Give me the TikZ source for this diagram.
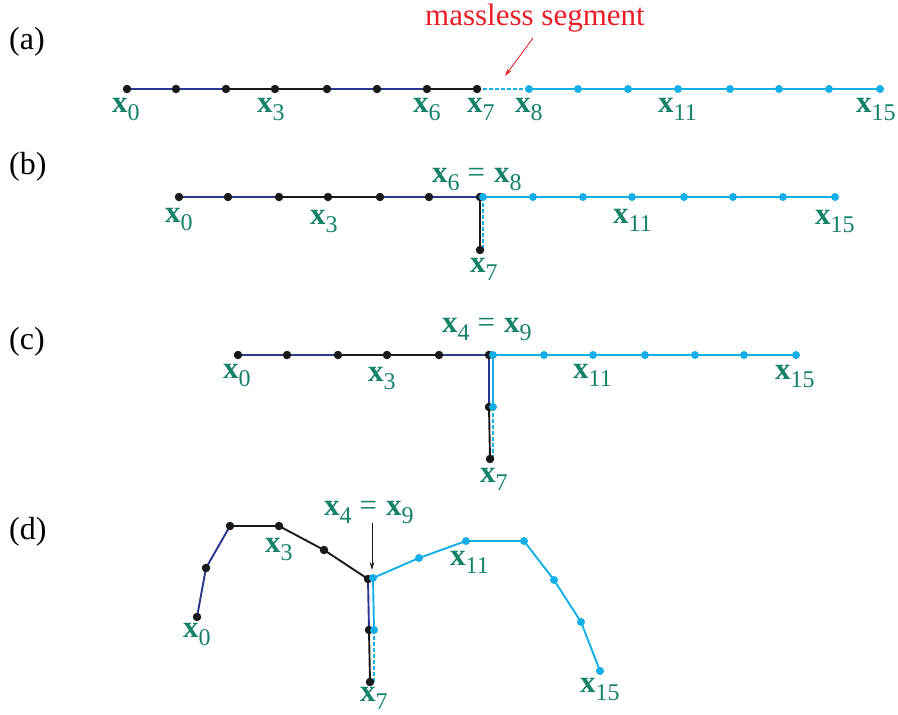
\documentclass[tikz,border=0pt]{standalone}
\usepackage{fontspec}
\setmainfont{Liberation Serif}
\usetikzlibrary{arrows.meta}
\definecolor{chainblack}{RGB}{25,25,25}
\definecolor{chainblue}{RGB}{40,55,140}
\definecolor{chaincyan}{RGB}{20,175,230}
\definecolor{labgreen}{RGB}{20,130,105}
\definecolor{massred}{RGB}{232,30,40}
\newcommand{\xsub}[1]{\textbf{x}\raisebox{-8pt}{\fontsize{24}{24}\selectfont #1}}
\newcommand{\xeq}[2]{\xsub{#1}\hspace{8pt}=\hspace{9pt}\xsub{#2}}
\begin{document}
\begin{tikzpicture}[x=1pt,y=-1pt,
  blk/.style={line width=1.9pt, draw=chainblack, line join=round},
  blu/.style={line width=1.9pt, draw=chainblue, line join=round},
  cyn/.style={line width=1.9pt, draw=chaincyan, line join=round},
  cyndash/.style={line width=1.9pt, draw=chaincyan, dash pattern=on 4pt off 2pt},
  bdot/.style={circle, fill=chainblack, inner sep=0pt, minimum size=8.5pt},
  cdot/.style={circle, fill=chaincyan, inner sep=0pt, minimum size=8pt},
  lbl/.style={anchor=base west, inner sep=0pt, text=labgreen, font=\fontsize{31}{31}\selectfont},
  panel/.style={anchor=base west, inner sep=0pt, font=\fontsize{32}{32}\selectfont},
  pointer/.style={line width=0.8pt, -{Stealth[length=8pt,width=4.5pt]}}
]
\useasboundingbox (0,0) rectangle (898,715);

% ---------------- panel labels
\node[panel] (pa) at (9,49) {(a)};
\node[panel] (pb) at (9,174) {(b)};
\node[panel] (pc) at (9,349) {(c)};
\node[panel] (pd) at (9,539) {(d)};

% ---------------- (a)
\foreach \x [count=\i from 0] in {127,176,226,275,327,377,427,477} \coordinate (a\i) at (\x,89);
\foreach \x [count=\i from 8] in {529,578,628,678,730,779,829,880} \coordinate (a\i) at (\x,89);
\draw[blu] (a0)--(a1)--(a2);
\draw[blk] (a2)--(a3)--(a4);
\draw[blu] (a4)--(a5)--(a6);
\draw[blk] (a6)--(a7);
\draw[cyndash] (a7)--(a8);
\draw[cyn] (a8)--(a9)--(a10)--(a11)--(a12)--(a13)--(a14)--(a15);
\foreach \i in {0,...,7} \node[bdot] (da\i) at (a\i) {};
\foreach \i in {8,...,15} \node[cdot] (da\i) at (a\i) {};
\node[lbl] (la0) at (112,112) {\xsub{0}};
\node[lbl] (la3) at (257,112) {\xsub{3}};
\node[lbl] (la6) at (413,112) {\xsub{6}};
\node[lbl] (la7) at (467,112) {\xsub{7}};
\node[lbl] (la8) at (515,112) {\xsub{8}};
\node[lbl] (la11) at (658,112) {\xsub{11}};
\node[lbl] (la15) at (856,112) {\xsub{15}};
\node[anchor=base west, inner sep=0pt, text=massred, font=\fontsize{31}{31}\selectfont] (mass) at (425,25) {massless segment};
\coordinate (mstart) at (533,38);
\coordinate (mend) at (505,76);
\draw[pointer, draw=massred, fill=massred] (mstart) -- (mend);

% ---------------- (b)
\foreach \x [count=\i from 0] in {179,228,279,328,380,429,480} \coordinate (b\i) at (\x,197);
\coordinate (b7) at (480,250);
\coordinate (b8) at (483,197);
\coordinate (b7c) at (483,250);
\foreach \x [count=\i from 9] in {533,583,632,684,733,783,835} \coordinate (b\i) at (\x,197);
\draw[blu] (b0)--(b1)--(b2);
\draw[blk] (b2)--(b3)--(b4);
\draw[blu] (b4)--(b5)--(b6);
\draw[blk] (b6)--(b7);
\draw[cyndash] (b8)--(b7c);
\draw[cyn] (b8)--(b9)--(b10)--(b11)--(b12)--(b13)--(b14)--(b15);
\foreach \i in {0,...,7} \node[bdot] (db\i) at (b\i) {};
\foreach \i in {8,...,15} \node[cdot] (db\i) at (b\i) {};
\node[lbl] (lb0) at (165,222) {\xsub{0}};
\node[lbl] (lb3) at (310,224) {\xsub{3}};
\node[lbl] (lb7) at (470,272) {\xsub{7}};
\node[lbl] (lb68) at (432,182) {\xeq{6}{8}};
\node[lbl] (lb11) at (613,223) {\xsub{11}};
\node[lbl] (lb15) at (815,224) {\xsub{15}};

% ---------------- (c)
\foreach \x [count=\i from 0] in {238,287,338,387,439,489} \coordinate (c\i) at (\x,355);
\coordinate (c6) at (489,407);
\coordinate (c7) at (490,459);
\coordinate (c9) at (493,355);
\coordinate (c8) at (493,407);
\coordinate (c7c) at (493,459);
\foreach \x [count=\i from 10] in {544,593,645,695,744,796} \coordinate (c\i) at (\x,355);
\draw[blu] (c0)--(c1)--(c2);
\draw[blk] (c2)--(c3)--(c4);
\draw[blu] (c4)--(c5)--(c6);
\draw[blk] (c6)--(c7);
\draw[cyndash] (c8)--(c7c);
\draw[cyn] (c8)--(c9)--(c10)--(c11)--(c12)--(c13)--(c14)--(c15);
\foreach \i in {0,...,7} \node[bdot] (dc\i) at (c\i) {};
\foreach \i in {8,...,15} \node[cdot] (dc\i) at (c\i) {};
\node[lbl] (lc0) at (223,378) {\xsub{0}};
\node[lbl] (lc3) at (368,381) {\xsub{3}};
\node[lbl] (lc49) at (442,332) {\xeq{4}{9}};
\node[lbl] (lc7) at (480,482) {\xsub{7}};
\node[lbl] (lc11) at (573,378) {\xsub{11}};
\node[lbl] (lc15) at (775,379) {\xsub{15}};

% ---------------- (d)
\coordinate (d0) at (197,617);
\coordinate (d1) at (206,568);
\coordinate (d2) at (230,526);
\coordinate (d3) at (279,526);
\coordinate (d4) at (324,550);
\coordinate (d5) at (368,579);
\coordinate (d6) at (369,630);
\coordinate (d7) at (370,682);
\coordinate (d9) at (373,578);
\coordinate (d8) at (374,630);
\coordinate (d7c) at (374,682);
\coordinate (d10) at (419,558);
\coordinate (d11) at (466,541);
\coordinate (d12) at (524,541);
\coordinate (d13) at (554,580);
\coordinate (d14) at (581,622);
\coordinate (d15) at (600,671);
\draw[blu] (d0)--(d1)--(d2);
\draw[blk] (d2)--(d3)--(d4)--(d5);
\draw[blu] (d5)--(d6);
\draw[blk] (d6)--(d7);
\draw[cyndash] (d8)--(d7c);
\draw[cyn] (d8)--(d9)--(d10)--(d11)--(d12)--(d13)--(d14)--(d15);
\foreach \i in {0,...,7} \node[bdot] (dd\i) at (d\i) {};
\foreach \i in {8,...,15} \node[cdot] (dd\i) at (d\i) {};
\node[lbl] (ld0) at (183,637) {\xsub{0}};
\node[lbl] (ld3) at (265,552) {\xsub{3}};
\node[lbl] (ld49) at (324,515) {\xeq{4}{9}};
\node[lbl] (ld7) at (360,701) {\xsub{7}};
\node[lbl] (ld11) at (450,565) {\xsub{11}};
\node[lbl] (ld15) at (580,692) {\xsub{15}};
\coordinate (dastart) at (372,523);
\coordinate (daend) at (372,570);
\draw[pointer, draw=chainblack, fill=chainblack] (dastart) -- (daend);
\end{tikzpicture}
\end{document}
